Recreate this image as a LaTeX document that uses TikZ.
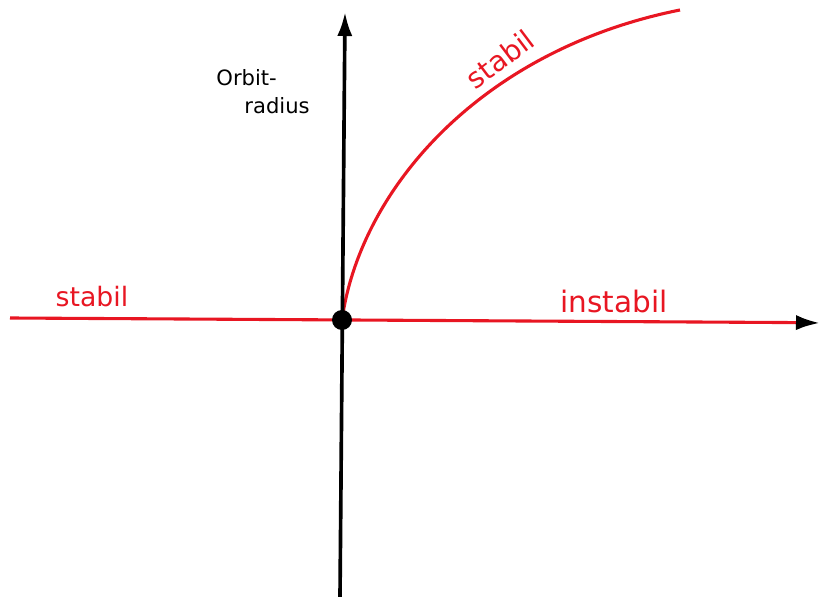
\documentclass[tikz,border=0pt]{standalone}
\usepackage{fontspec}
\setmainfont{DejaVu Sans}
\usetikzlibrary{arrows.meta}
\definecolor{penred}{RGB}{232,22,34}
\begin{document}
\begin{tikzpicture}[
        axis/.style={line width=2.6pt, black},
        branch/.style={line width=2.2pt, penred},
        tip/.style={-{Latex[length=0.6cm, width=0.38cm]}},
        label/.style={font=\fontsize{19}{21}\selectfont, text=penred},
        dot/.style={circle, fill=black, inner sep=0pt, minimum size=0.5cm}
    ]
        \useasboundingbox (0,0) rectangle (20.55,14.925);

        % Points of the diagram
        \coordinate (xleft) at (0.25, 6.975);
        \coordinate (xend) at (19.9, 6.86);
        \coordinate (xtip) at (20.5, 6.85);
        \coordinate (ybottom) at (8.5, 0);
        \coordinate (ytip) at (8.625, 14.625);
        \coordinate (top) at (17.0, 14.675);

        % Red branches
        \draw[branch] (xleft) -- (xend);
        \draw[branch] (8.55, 6.925) .. controls (9.0, 10.175) and (12.0, 13.675) .. (top);

        % Axes
        \draw[axis, tip] (ybottom) -- (ytip);
        \draw[axis, tip] (xend) -- (xtip);
        \node[dot] (origin) at (8.55, 6.925) {};

        % Labels
        \node[label] (stableleft) at (2.3, 7.5) {stabil};
        \node[label, font=\fontsize{21}{23}\selectfont] (unstable) at (15.35, 7.4) {instabil};
        \node[label, font=\fontsize{20}{22}\selectfont, rotate=37] (stableup) at (12.5, 13.45) {stabil};
        \node[align=left, font=\fontsize{15}{20}\selectfont] (ylabel) at (6.575, 12.625) {Orbit-\\\hspace*{0.7cm}radius};

    \end{tikzpicture}
\end{document}
